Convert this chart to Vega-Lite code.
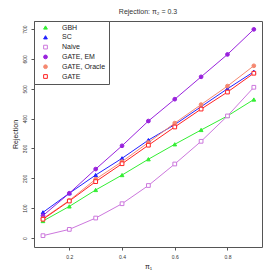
{
  "$schema": "https://vega.github.io/schema/vega-lite/v6.json",
  "autosize": "none",
  "width": 228,
  "height": 226,
  "padding": {"left": 34, "top": 21, "right": 11, "bottom": 26},
  "background": "white",
  "config": {
    "font": "Liberation Sans",
    "view": {"stroke": "#555555", "strokeWidth": 1},
    "axis": {"grid": false, "domain": false, "tickColor": "#555555", "tickSize": 3, "labelFontSize": 5, "labelColor": "#333333", "titleFontSize": 7, "titleFontWeight": "normal", "titleColor": "#222222"},
    "legend": {"orient": "top-left", "offset": 0, "labelFontSize": 7, "labelColor": "#222222", "symbolSize": 14, "symbolStrokeWidth": 1, "rowPadding": 0.8, "padding": 3, "strokeColor": "#555555", "fillColor": "white", "symbolOffset": 5, "labelOffset": 13, "labelLimit": 300}
  },
  "title": {"text": "Rejection: π₂ = 0.3", "fontSize": 7, "fontWeight": "normal", "color": "#333333", "offset": 6},
  "data": {"values": [
    {"pi1": 0.1, "series": "GBH", "rej": 57}, {"pi1": 0.2, "series": "GBH", "rej": 106}, {"pi1": 0.3, "series": "GBH", "rej": 161}, {"pi1": 0.4, "series": "GBH", "rej": 211}, {"pi1": 0.5, "series": "GBH", "rej": 264}, {"pi1": 0.6, "series": "GBH", "rej": 314}, {"pi1": 0.7, "series": "GBH", "rej": 362}, {"pi1": 0.8, "series": "GBH", "rej": 409}, {"pi1": 0.9, "series": "GBH", "rej": 464},
    {"pi1": 0.1, "series": "SC", "rej": 86}, {"pi1": 0.2, "series": "SC", "rej": 150}, {"pi1": 0.3, "series": "SC", "rej": 211}, {"pi1": 0.4, "series": "SC", "rej": 267}, {"pi1": 0.5, "series": "SC", "rej": 328}, {"pi1": 0.6, "series": "SC", "rej": 380}, {"pi1": 0.7, "series": "SC", "rej": 440}, {"pi1": 0.8, "series": "SC", "rej": 500}, {"pi1": 0.9, "series": "SC", "rej": 557},
    {"pi1": 0.1, "series": "Naive", "rej": 8}, {"pi1": 0.2, "series": "Naive", "rej": 29}, {"pi1": 0.3, "series": "Naive", "rej": 67}, {"pi1": 0.4, "series": "Naive", "rej": 115}, {"pi1": 0.5, "series": "Naive", "rej": 176}, {"pi1": 0.6, "series": "Naive", "rej": 248}, {"pi1": 0.7, "series": "Naive", "rej": 324}, {"pi1": 0.8, "series": "Naive", "rej": 409}, {"pi1": 0.9, "series": "Naive", "rej": 505},
    {"pi1": 0.1, "series": "GATE, EM", "rej": 75}, {"pi1": 0.2, "series": "GATE, EM", "rej": 150}, {"pi1": 0.3, "series": "GATE, EM", "rej": 231}, {"pi1": 0.4, "series": "GATE, EM", "rej": 309}, {"pi1": 0.5, "series": "GATE, EM", "rej": 392}, {"pi1": 0.6, "series": "GATE, EM", "rej": 465}, {"pi1": 0.7, "series": "GATE, EM", "rej": 540}, {"pi1": 0.8, "series": "GATE, EM", "rej": 615}, {"pi1": 0.9, "series": "GATE, EM", "rej": 699},
    {"pi1": 0.1, "series": "GATE, Oracle", "rej": 65}, {"pi1": 0.2, "series": "GATE, Oracle", "rej": 126}, {"pi1": 0.3, "series": "GATE, Oracle", "rej": 197}, {"pi1": 0.4, "series": "GATE, Oracle", "rej": 256}, {"pi1": 0.5, "series": "GATE, Oracle", "rej": 320}, {"pi1": 0.6, "series": "GATE, Oracle", "rej": 385}, {"pi1": 0.7, "series": "GATE, Oracle", "rej": 447}, {"pi1": 0.8, "series": "GATE, Oracle", "rej": 509}, {"pi1": 0.9, "series": "GATE, Oracle", "rej": 577},
    {"pi1": 0.1, "series": "GATE", "rej": 63}, {"pi1": 0.2, "series": "GATE", "rej": 124}, {"pi1": 0.3, "series": "GATE", "rej": 189}, {"pi1": 0.4, "series": "GATE", "rej": 249}, {"pi1": 0.5, "series": "GATE", "rej": 311}, {"pi1": 0.6, "series": "GATE", "rej": 372}, {"pi1": 0.7, "series": "GATE", "rej": 432}, {"pi1": 0.8, "series": "GATE", "rej": 489}, {"pi1": 0.9, "series": "GATE", "rej": 552}
  ]},
  "encoding": {
    "x": {"field": "pi1", "type": "quantitative", "title": "π₁", "scale": {"domain": [0.066, 0.931], "nice": false, "zero": false}, "axis": {"values": [0.2, 0.4, 0.6, 0.8], "format": ".1f", "labelPadding": 4, "titlePadding": 3}},
    "y": {"field": "rej", "type": "quantitative", "title": "Rejection", "scale": {"domain": [-30, 727], "nice": false, "zero": false}, "axis": {"values": [0, 100, 200, 300, 400, 500, 600, 700], "labelAngle": -90, "labelAlign": "center", "labelBaseline": "bottom", "labelPadding": 4, "titlePadding": 4}},
    "color": {"field": "series", "type": "nominal", "title": null,
      "scale": {"domain": ["GBH", "SC", "Naive", "GATE, EM", "GATE, Oracle", "GATE"], "range": ["#33ee33", "#2222ff", "#cc77dd", "#9922dd", "#f58870", "#ff2222"]},
      "legend": {
        "labelExpr": "datum.label + '\u00a0\u00a0\u00a0\u00a0\u00a0\u00a0\u00a0\u00a0\u00a0\u00a0\u00a0\u00a0\u00a0\u00a0\u00a0\u00a0'",
        "encode": {"symbols": {"update": {
          "shape": {"value": {"signal": "(datum.value === 'GBH' || datum.value === 'SC') ? 'M-4.3,0H4.3M0,-1.1L1,0.7L-1,0.7Z' : ((datum.value === 'Naive' || datum.value === 'GATE') ? 'M-4.3,0H4.3M-0.85,-0.85H0.85V0.85H-0.85Z' : 'M-4.3,0H4.3M1,0A1,1 0 1,1 -1,0A1,1 0 1,1 1,0Z')"}},
          "fill": {"value": {"signal": "datum.value === 'GBH' ? '#33ee33' : datum.value === 'SC' ? '#2222ff' : datum.value === 'GATE, EM' ? '#9922dd' : datum.value === 'GATE, Oracle' ? '#f58870' : 'white'"}},
          "strokeWidth": {"value": 1},
          "opacity": {"value": 1}
        }}}
      }}
  },
  "layer": [
    {
      "mark": {"type": "line", "strokeWidth": 1}
    },
    {
      "mark": {"type": "point", "size": 14, "strokeWidth": 1, "opacity": 1},
      "encoding": {
        "fill": {"field": "series", "type": "nominal", "legend": null,
          "scale": {"domain": ["GBH", "SC", "Naive", "GATE, EM", "GATE, Oracle", "GATE"], "range": ["#33ee33", "#2222ff", "white", "#9922dd", "#f58870", "white"]}},
        "shape": {"field": "series", "type": "nominal", "legend": null,
          "scale": {"domain": ["GBH", "SC", "Naive", "GATE, EM", "GATE, Oracle", "GATE"], "range": ["triangle-up", "triangle-up", "square", "circle", "circle", "square"]}}
      }
    }
  ]
}
